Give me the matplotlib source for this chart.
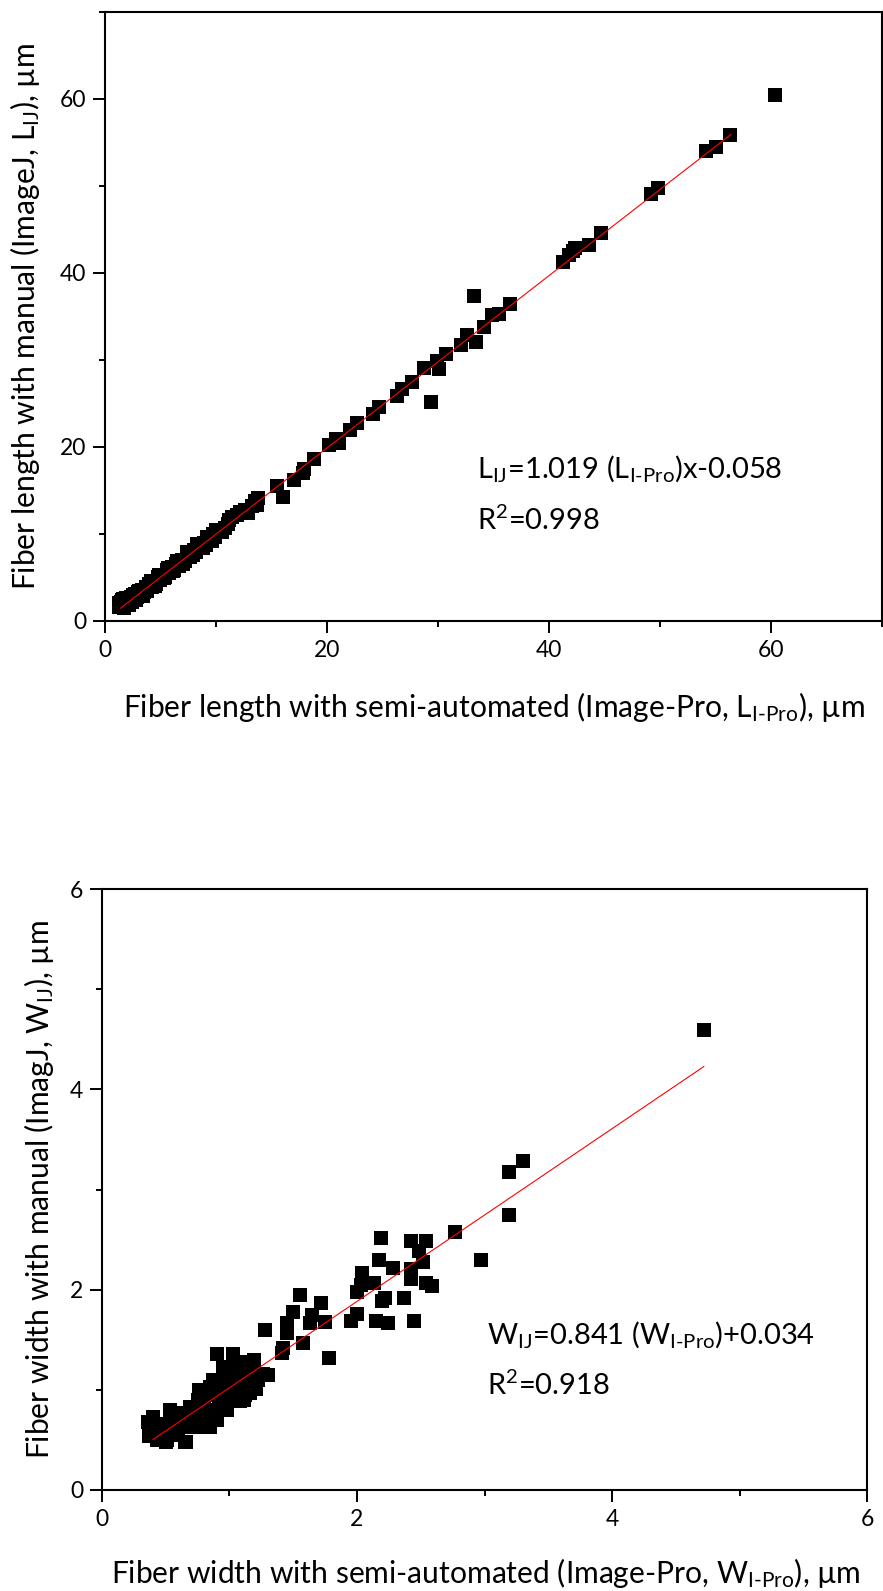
import matplotlib
matplotlib.use('Agg')
import matplotlib.pyplot as plt
import numpy as np
from matplotlib.ticker import MultipleLocator

plt.rcParams['font.family'] = ['Lato', 'DejaVu Sans']
plt.rcParams['mathtext.fontset'] = 'custom'
plt.rcParams['mathtext.rm'] = 'Lato'
plt.rcParams['mathtext.it'] = 'Lato:italic'
plt.rcParams['mathtext.bf'] = 'Lato:bold'

# ---- fiber length (top panel) ----
len_ipro = [1.3, 1.4, 1.5, 1.6, 1.7, 1.8, 1.9, 2.0, 2.1, 2.3, 2.4, 2.6, 2.7, 2.9, 3.0,
            3.2, 3.3, 3.5, 3.7, 3.8, 4.0, 4.2, 4.4, 4.6, 4.8, 5.0, 5.2, 5.4, 5.6, 5.8,
            6.0, 6.2, 6.4, 6.7, 6.9, 7.2, 7.5, 7.7, 8.0, 8.2, 8.4, 8.6, 8.9, 9.1, 9.4,
            9.7, 9.9, 10.2, 10.8, 11.1, 11.4, 11.9, 12.9, 13.7, 13.8,
            1.3, 1.5, 1.7, 2.0, 2.2, 2.5, 2.8, 3.1, 3.4, 3.6, 4.1, 4.5, 4.9, 5.3,
            5.7, 6.1, 6.5, 7.0, 7.4, 7.9, 8.3, 8.8, 9.2, 9.6, 10.0, 10.5, 11.2, 12.2,
            12.6, 13.2, 13.5,
            15.5, 16.0, 17.0, 17.8, 17.9, 18.8, 20.2, 20.8, 21.1, 22.1, 22.7, 24.1,
            24.7, 26.3, 26.8, 27.7, 28.7, 29.4, 29.9, 30.1, 30.7, 32.1, 32.6, 33.2,
            33.4, 34.1, 34.9, 35.5, 36.5, 41.3, 41.8, 42.2, 42.3, 43.6, 44.7, 49.2,
            49.8, 54.1, 55.0, 56.3, 60.4]
len_ij = [1.6, 2.2, 1.8, 2.5, 1.5, 2.0, 2.6, 1.9, 2.3, 2.8, 2.2, 2.6, 3.1, 2.7, 3.3,
          3.0, 3.6, 3.3, 3.9, 3.5, 4.3, 3.9, 4.6, 4.3, 5.0, 4.7, 5.3, 5.1, 5.8, 5.5,
          6.2, 5.9, 6.6, 6.3, 7.0, 6.9, 7.6, 7.3, 8.2, 7.9, 8.8, 8.4, 9.0, 8.7, 9.3,
          10.0, 9.6, 10.4, 10.7, 11.1, 12.0, 12.2, 12.4, 13.3, 14.1,
          2.1, 2.4, 2.1, 2.6, 1.8, 3.0, 2.4, 3.5, 2.9, 3.5, 4.6, 4.0, 5.3, 4.9,
          6.1, 5.7, 6.9, 6.6, 7.9, 7.6, 8.9, 8.4, 9.6, 9.2, 10.5, 10.2, 11.6, 12.5,
          12.8, 13.2, 13.8,
          15.5, 14.2, 16.2, 17.0, 17.5, 18.6, 20.2, 20.9, 20.4, 21.9, 22.7, 23.8,
          24.6, 25.9, 26.7, 27.5, 29.1, 25.2, 29.9, 28.9, 30.7, 31.7, 32.9, 37.3,
          32.0, 33.8, 35.2, 35.3, 36.4, 41.2, 42.0, 42.5, 42.8, 43.2, 44.6, 49.1,
          49.8, 54.0, 54.5, 55.8, 60.4]
len_fit = [0.99, 0.08]        # drawn line: slope, intercept
len_fit_range = [1.4, 56.4]

# ---- fiber width (bottom panel) ----
wid_ipro = [0.36, 0.37, 0.38, 0.40, 0.43, 0.50, 0.50, 0.51, 0.53, 0.58, 0.64, 0.65,
            0.66, 0.69, 0.74, 0.74, 0.76, 0.79, 0.85, 0.85, 0.85, 0.87, 0.90, 0.90,
            0.95, 0.95, 0.98, 1.00, 1.03, 1.06, 1.08, 1.10, 1.11, 1.11, 1.15, 1.16,
            1.19, 1.21, 1.22, 1.23, 1.26, 1.30, 1.02, 0.56, 0.62, 0.70, 0.80, 0.92,
            0.42, 0.45, 0.47, 0.55, 0.57, 0.60, 0.62, 0.67, 0.70, 0.72, 0.78, 0.80,
            0.82, 0.88, 0.92, 0.96, 1.00, 1.05, 1.08, 1.13, 1.18, 1.12, 0.75, 0.83,
            0.88, 0.93, 1.00, 1.05, 1.12,
            1.28, 1.41, 1.42, 1.45, 1.45, 1.50, 1.55, 1.58, 1.63, 1.65, 1.72, 1.75,
            1.78, 1.95, 2.00, 2.00, 2.03, 2.04, 2.13, 2.15, 2.17, 2.19, 2.20, 2.22,
            2.24, 2.28, 2.37, 2.42, 2.42, 2.42, 2.45, 2.49, 2.52, 2.54, 2.54, 2.59,
            2.77, 2.97, 3.19, 3.19, 3.30, 4.72]
wid_ij = [0.68, 0.54, 0.63, 0.73, 0.50, 0.48, 0.60, 0.50, 0.80, 0.63, 0.77, 0.48,
          0.48, 0.83, 0.77, 0.63, 1.00, 0.90, 1.03, 0.63, 0.80, 1.10, 1.36, 0.70,
          1.03, 1.23, 0.80, 0.90, 1.36, 1.16, 0.89, 1.01, 0.90, 1.03, 1.20, 0.97,
          1.30, 1.01, 1.10, 1.15, 1.16, 1.15, 1.00, 0.70, 0.72, 0.74, 0.86, 0.95,
          0.58, 0.66, 0.55, 0.60, 0.70, 0.55, 0.66, 0.72, 0.63, 0.68, 0.70, 0.78,
          0.66, 0.76, 0.84, 0.95, 1.05, 0.98, 1.10, 1.12, 1.05, 0.95, 0.90, 0.95,
          1.00, 1.10, 1.15, 1.25, 1.28,
          1.60, 1.37, 1.42, 1.67, 1.57, 1.78, 1.95, 1.47, 1.67, 1.75, 1.87, 1.68,
          1.32, 1.69, 1.98, 1.76, 2.05, 2.17, 2.07, 1.69, 2.30, 2.52, 1.89, 1.92,
          1.67, 2.22, 1.92, 2.49, 2.21, 2.11, 1.69, 2.39, 2.28, 2.49, 2.07, 2.04,
          2.58, 2.30, 3.17, 2.75, 3.28, 4.59]
wid_fit = [0.862, 0.159]
wid_fit_range = [0.40, 4.72]

fig = plt.figure(figsize=(8.83, 15.91), dpi=100)
ax1 = fig.add_axes([0.1189, 0.6097, 0.880, 0.3829])
ax2 = fig.add_axes([0.1155, 0.0635, 0.8664, 0.3777])

LABEL_FS = 21.6
NOTE_FS = 21


def style_axis(ax, lim, major, minor):
    ax.set_xlim(0, lim)
    ax.set_ylim(0, lim)
    ax.xaxis.set_major_locator(MultipleLocator(major))
    ax.yaxis.set_major_locator(MultipleLocator(major))
    ax.xaxis.set_minor_locator(MultipleLocator(minor))
    ax.yaxis.set_minor_locator(MultipleLocator(minor))
    ax.tick_params(which='major', direction='out', length=8.5, width=1.4,
                   labelsize=16.5, pad=5)
    ax.tick_params(which='minor', direction='out', length=4.5, width=1.4)
    for sp in ax.spines.values():
        sp.set_linewidth(1.5)


def draw_panel(ax, x, y, fit, fit_range):
    ax.plot(x, y, 's', color='black', markersize=9.5, markeredgewidth=0, zorder=2)
    xs = np.array(fit_range)
    ax.plot(xs, fit[0] * xs + fit[1], color='red', linewidth=0.8, zorder=3)


draw_panel(ax1, len_ipro, len_ij, len_fit, len_fit_range)
style_axis(ax1, 70, 20, 10)
ax1.set_xlabel(r'Fiber length with semi-automated (Image-Pro, L$_{\mathrm{I\text{-}Pro}}$), µm',
               fontsize=LABEL_FS)
ax1.set_ylabel(r'Fiber length with manual (ImageJ, L$_{\mathrm{IJ}}$), µm', fontsize=LABEL_FS)
ax1.xaxis.set_label_coords(0.5, -0.141)
ax1.xaxis.label.set_va('center')
ax1.yaxis.set_label_coords(-0.103, 0.5)
ax1.yaxis.label.set_va('center')
ax1.text(33.5, 17.5, r'L$_{\mathrm{IJ}}$=1.019 (L$_{\mathrm{I\text{-}Pro}}$)x-0.058',
         fontsize=NOTE_FS, va='center', ha='left')
ax1.text(33.5, 11.6, r'R$^{2}$=0.998', fontsize=NOTE_FS, va='center', ha='left')

draw_panel(ax2, wid_ipro, wid_ij, wid_fit, wid_fit_range)
style_axis(ax2, 6, 2, 1)
ax2.set_xlabel(r'Fiber width with semi-automated (Image-Pro, W$_{\mathrm{I\text{-}Pro}}$), µm',
               fontsize=LABEL_FS)
ax2.set_ylabel(r'Fiber width with manual (ImagJ, W$_{\mathrm{IJ}}$), µm', fontsize=LABEL_FS)
ax2.xaxis.set_label_coords(0.502, -0.138)
ax2.xaxis.label.set_va('center')
ax2.yaxis.set_label_coords(-0.082, 0.501)
ax2.yaxis.label.set_va('center')
ax2.text(3.02, 1.55, r'W$_{\mathrm{IJ}}$=0.841 (W$_{\mathrm{I\text{-}Pro}}$)+0.034',
         fontsize=NOTE_FS, va='center', ha='left')
ax2.text(3.02, 1.04, r'R$^{2}$=0.918', fontsize=NOTE_FS, va='center', ha='left')

fig.savefig('out.png', dpi=100)
